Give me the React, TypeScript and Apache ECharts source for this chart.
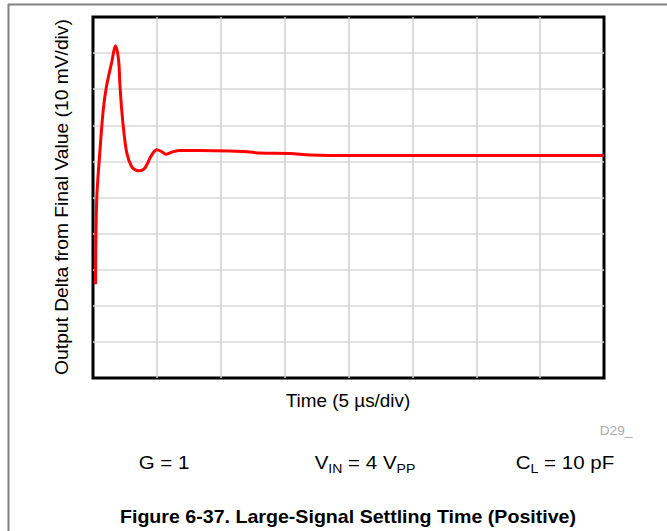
import React, { useEffect, useRef } from "react";
import * as echarts from "echarts";

// Time in divisions (5 µs/div)
const timeDiv = [0.04, 0.058, 0.11, 0.16, 0.21, 0.29, 0.355, 0.40, 0.42, 0.45, 0.485, 0.53, 0.605, 0.67, 0.735, 0.80, 0.84, 0.92, 1.0, 1.075, 1.14, 1.24, 1.36, 1.67, 2.14, 2.41, 2.61, 3.08, 3.40, 4.02, 4.8, 6.0, 7.0, 8.0];
// Output delta in divisions (10 mV/div), counted from the bottom of the plot
const deltaDiv = [2.6, 4.93, 6.32, 7.42, 8.07, 8.72, 9.2, 8.81, 8.17, 7.42, 6.79, 6.23, 5.85, 5.76, 5.74, 5.79, 5.9, 6.18, 6.32, 6.27, 6.2, 6.26, 6.3, 6.3, 6.29, 6.27, 6.23, 6.22, 6.18, 6.16, 6.16, 6.16, 6.16, 6.16];

const xTicks = { min: 0, max: 8, interval: 1 };
const yTicks = { min: 0, max: 10, interval: 1 };

const yTitle = "Output Delta from Final Value (10 mV/div)";
const xTitle = "Time (5 µs/div)";
const figTitle = "Figure 6-37. Large-Signal Settling Time (Positive)";
const code = "D29_";

export default function App() {
  const ref = useRef<HTMLDivElement>(null);
  useEffect(() => {
    if (!ref.current) return;
    const chart = echarts.init(ref.current, undefined, { renderer: "svg" });
    const font = "Liberation Sans, Arial, sans-serif";
    const richBase = {
      n: { fontSize: 19, fontFamily: font, color: "#000", lineHeight: 26, verticalAlign: "middle" },
      s: { fontSize: 13, fontFamily: font, color: "#000", lineHeight: 13, verticalAlign: "bottom" },
    };
    chart.setOption({
      animation: false,
      backgroundColor: "#fff",
      grid: {
        left: 93,
        top: 17,
        width: 511,
        height: 361,
        show: true,
        borderColor: "#000",
        borderWidth: 3,
        backgroundColor: "transparent",
      },
      xAxis: {
        type: "value",
        ...xTicks,
        axisLine: { show: false },
        axisTick: { show: false },
        axisLabel: { show: false },
        splitLine: { show: true, showMinLine: false, showMaxLine: false, lineStyle: { color: "#d0d0d0", width: 1.5 } },
      },
      yAxis: {
        type: "value",
        ...yTicks,
        axisLine: { show: false },
        axisTick: { show: false },
        axisLabel: { show: false },
        splitLine: { show: true, showMinLine: false, showMaxLine: false, lineStyle: { color: "#d8d8d8", width: 1.5 } },
      },
      series: [
        {
          type: "line",
          data: timeDiv.map((t, i) => [t, deltaDiv[i]]),
          showSymbol: false,
          smooth: 0.35,
          lineStyle: { color: "#ff0000", width: 3 },
          z: 5,
        },
      ],
      graphic: [
        { type: "line", shape: { x1: 8, y1: 4.5, x2: 667, y2: 4.5 }, style: { stroke: "#808080", lineWidth: 2 } },
        { type: "line", shape: { x1: 8.5, y1: 4, x2: 8.5, y2: 531 }, style: { stroke: "#808080", lineWidth: 2 } },
        {
          type: "text",
          x: 62,
          y: 197,
          rotation: Math.PI / 2,
          scaleX: 1.07,
          style: { text: yTitle, fontSize: 18, fontFamily: font, fill: "#000", align: "center", verticalAlign: "middle" },
        },
        {
          type: "text",
          x: 348,
          y: 401,
          scaleX: 1.05,
          style: { text: xTitle, fontSize: 18, fontFamily: font, fill: "#000", align: "center", verticalAlign: "middle" },
        },
        {
          type: "text",
          x: 616,
          y: 431,
          scaleX: 1.05,
          style: { text: code, fontSize: 13, fontFamily: font, fill: "#aaaaaa", align: "center", verticalAlign: "middle" },
        },
        {
          type: "text",
          x: 164,
          y: 462,
          scaleX: 1.08,
          style: { text: "{n|G = 1}", rich: richBase, align: "center", verticalAlign: "middle" },
        },
        {
          type: "text",
          x: 365,
          y: 462,
          scaleX: 1.08,
          style: { text: "{n|V}{s|IN}{n| = 4 V}{s|PP}", rich: richBase, align: "center", verticalAlign: "middle" },
        },
        {
          type: "text",
          x: 565,
          y: 462,
          scaleX: 1.08,
          style: { text: "{n|C}{s|L}{n| = 10 pF}", rich: richBase, align: "center", verticalAlign: "middle" },
        },
        {
          type: "text",
          x: 348,
          y: 517,
          scaleX: 1.09,
          style: { text: figTitle, fontSize: 18, fontWeight: "bold", fontFamily: font, fill: "#000", align: "center", verticalAlign: "middle" },
        },
      ],
    });
    return () => chart.dispose();
  }, []);
  return (
    <div
      ref={ref}
      style={{ position: "fixed", left: 0, top: 0, width: 667, height: 531, background: "#fff" }}
    />
  );
}
